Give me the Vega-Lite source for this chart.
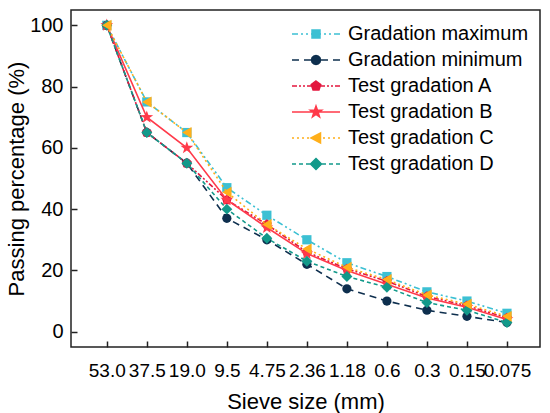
{
  "$schema": "https://vega.github.io/schema/vega-lite/v6.json",
  "width": 469,
  "height": 337,
  "autosize": "none",
  "padding": {"left": 71, "top": 10, "right": 10, "bottom": 66},
  "background": "white",
  "config": {
    "font": "Liberation Sans",
    "view": {"stroke": "#222222", "strokeWidth": 1.5},
    "axis": {"labelFont": "Liberation Sans", "titleFont": "Liberation Sans", "labelColor": "black", "titleColor": "black", "titleFontWeight": "normal", "domain": false, "grid": false, "tickColor": "#222222", "tickWidth": 1.5}
  },
  "data": {"values": [
      {"s":"53.0","i":0,"series":"Gradation maximum","v":100},
      {"s":"37.5","i":1,"series":"Gradation maximum","v":75},
      {"s":"19.0","i":2,"series":"Gradation maximum","v":65},
      {"s":"9.5","i":3,"series":"Gradation maximum","v":47},
      {"s":"4.75","i":4,"series":"Gradation maximum","v":38},
      {"s":"2.36","i":5,"series":"Gradation maximum","v":30},
      {"s":"1.18","i":6,"series":"Gradation maximum","v":22.5},
      {"s":"0.6","i":7,"series":"Gradation maximum","v":18},
      {"s":"0.3","i":8,"series":"Gradation maximum","v":13},
      {"s":"0.15","i":9,"series":"Gradation maximum","v":10},
      {"s":"0.075","i":10,"series":"Gradation maximum","v":6},
      {"s":"53.0","i":0,"series":"Gradation minimum","v":100},
      {"s":"37.5","i":1,"series":"Gradation minimum","v":65},
      {"s":"19.0","i":2,"series":"Gradation minimum","v":55},
      {"s":"9.5","i":3,"series":"Gradation minimum","v":37},
      {"s":"4.75","i":4,"series":"Gradation minimum","v":30},
      {"s":"2.36","i":5,"series":"Gradation minimum","v":22},
      {"s":"1.18","i":6,"series":"Gradation minimum","v":14},
      {"s":"0.6","i":7,"series":"Gradation minimum","v":10},
      {"s":"0.3","i":8,"series":"Gradation minimum","v":7},
      {"s":"0.15","i":9,"series":"Gradation minimum","v":5},
      {"s":"0.075","i":10,"series":"Gradation minimum","v":3},
      {"s":"53.0","i":0,"series":"Test gradation A","v":100},
      {"s":"37.5","i":1,"series":"Test gradation A","v":65},
      {"s":"19.0","i":2,"series":"Test gradation A","v":55},
      {"s":"9.5","i":3,"series":"Test gradation A","v":43},
      {"s":"4.75","i":4,"series":"Test gradation A","v":35},
      {"s":"2.36","i":5,"series":"Test gradation A","v":26},
      {"s":"1.18","i":6,"series":"Test gradation A","v":20.5},
      {"s":"0.6","i":7,"series":"Test gradation A","v":16.5},
      {"s":"0.3","i":8,"series":"Test gradation A","v":11.5},
      {"s":"0.15","i":9,"series":"Test gradation A","v":8.5},
      {"s":"0.075","i":10,"series":"Test gradation A","v":4.5},
      {"s":"53.0","i":0,"series":"Test gradation B","v":100},
      {"s":"37.5","i":1,"series":"Test gradation B","v":70},
      {"s":"19.0","i":2,"series":"Test gradation B","v":60},
      {"s":"9.5","i":3,"series":"Test gradation B","v":43},
      {"s":"4.75","i":4,"series":"Test gradation B","v":34},
      {"s":"2.36","i":5,"series":"Test gradation B","v":25.5},
      {"s":"1.18","i":6,"series":"Test gradation B","v":20},
      {"s":"0.6","i":7,"series":"Test gradation B","v":15.5},
      {"s":"0.3","i":8,"series":"Test gradation B","v":11},
      {"s":"0.15","i":9,"series":"Test gradation B","v":8},
      {"s":"0.075","i":10,"series":"Test gradation B","v":4},
      {"s":"53.0","i":0,"series":"Test gradation D","v":100},
      {"s":"37.5","i":1,"series":"Test gradation D","v":65},
      {"s":"19.0","i":2,"series":"Test gradation D","v":55},
      {"s":"9.5","i":3,"series":"Test gradation D","v":40},
      {"s":"4.75","i":4,"series":"Test gradation D","v":30.5},
      {"s":"2.36","i":5,"series":"Test gradation D","v":23},
      {"s":"1.18","i":6,"series":"Test gradation D","v":18},
      {"s":"0.6","i":7,"series":"Test gradation D","v":14.5},
      {"s":"0.3","i":8,"series":"Test gradation D","v":9.5},
      {"s":"0.15","i":9,"series":"Test gradation D","v":7},
      {"s":"0.075","i":10,"series":"Test gradation D","v":3},
      {"s":"53.0","i":0,"series":"Test gradation C","v":100},
      {"s":"37.5","i":1,"series":"Test gradation C","v":75},
      {"s":"19.0","i":2,"series":"Test gradation C","v":65},
      {"s":"9.5","i":3,"series":"Test gradation C","v":45.5},
      {"s":"4.75","i":4,"series":"Test gradation C","v":35},
      {"s":"2.36","i":5,"series":"Test gradation C","v":27},
      {"s":"1.18","i":6,"series":"Test gradation C","v":21},
      {"s":"0.6","i":7,"series":"Test gradation C","v":17},
      {"s":"0.3","i":8,"series":"Test gradation C","v":12},
      {"s":"0.15","i":9,"series":"Test gradation C","v":9},
      {"s":"0.075","i":10,"series":"Test gradation C","v":5}
  ]},
  "encoding": {
    "x": {
      "field": "s", "type": "ordinal",
      "scale": {"type": "point", "domain": ["53.0","37.5","19.0","9.5","4.75","2.36","1.18","0.6","0.3","0.15","0.075"], "padding": 0.86, "align": 0.52},
      "axis": {"title": "Sieve size (mm)", "labelAngle": 0, "labelFontSize": 19, "titleFontSize": 22, "tickSize": -6, "labelPadding": 20, "titlePadding": 11, "labelOverlap": false, "labelFlush": false, "labelBound": false}
    },
    "y": {
      "field": "v", "type": "quantitative",
      "scale": {"domain": [-5, 105], "nice": false, "zero": false},
      "axis": {"title": "Passing percentage (%)", "values": [0,20,40,60,80,100], "labelFontSize": 20, "titleFontSize": 22, "tickSize": -6, "labelPadding": 14, "titlePadding": 1}
    }
  },
  "layer": [
    {"transform": [{"filter": "datum.series === 'Gradation maximum'"}], "layer": [
      {"mark": {"type": "line", "strokeWidth": 1.6, "color": "#3CC0D3", "strokeDash": [6,3,2,3,2,3]}, "encoding": {"order": {"field": "i", "type": "quantitative"}}},
      {"mark": {"type": "point", "filled": true, "opacity": 1, "shape": "square", "size": 85, "color": "#3CC0D3"}}
    ]},
    {"transform": [{"filter": "datum.series === 'Gradation minimum'"}], "layer": [
      {"mark": {"type": "line", "strokeWidth": 1.6, "color": "#0E2F4E", "strokeDash": [7,5]}, "encoding": {"order": {"field": "i", "type": "quantitative"}}},
      {"mark": {"type": "point", "filled": true, "opacity": 1, "shape": "circle", "size": 85, "color": "#0E2F4E"}}
    ]},
    {"transform": [{"filter": "datum.series === 'Test gradation A'"}], "layer": [
      {"mark": {"type": "line", "strokeWidth": 1.6, "color": "#E3173E", "strokeDash": [5,2,2,2,2,2]}, "encoding": {"order": {"field": "i", "type": "quantitative"}}},
      {"mark": {"type": "point", "filled": true, "opacity": 1, "shape": "M0,-1L0.951,-0.309L0.588,0.809L-0.588,0.809L-0.951,-0.309Z", "size": 110, "color": "#E3173E"}}
    ]},
    {"transform": [{"filter": "datum.series === 'Test gradation B'"}], "layer": [
      {"mark": {"type": "line", "strokeWidth": 1.6, "color": "#FF3A4A"}, "encoding": {"order": {"field": "i", "type": "quantitative"}}},
      {"mark": {"type": "point", "filled": true, "opacity": 1, "shape": "M0,-1L0.235,-0.324L0.951,-0.309L0.380,0.124L0.588,0.809L0,0.4L-0.588,0.809L-0.380,0.124L-0.951,-0.309L-0.235,-0.324Z", "size": 180, "color": "#FF3A4A"}}
    ]},
    {"transform": [{"filter": "datum.series === 'Test gradation D'"}], "layer": [
      {"mark": {"type": "line", "strokeWidth": 1.6, "color": "#12998A", "strokeDash": [4,3]}, "encoding": {"order": {"field": "i", "type": "quantitative"}}},
      {"mark": {"type": "point", "filled": true, "opacity": 1, "shape": "diamond", "size": 120, "color": "#12998A"}}
    ]},
    {"transform": [{"filter": "datum.series === 'Test gradation C'"}], "layer": [
      {"mark": {"type": "line", "strokeWidth": 1.6, "color": "#FFAF1A", "strokeDash": [2,3]}, "encoding": {"order": {"field": "i", "type": "quantitative"}}},
      {"mark": {"type": "point", "filled": true, "opacity": 1, "shape": "triangle-left", "size": 120, "color": "#FFAF1A"}}
    ]},
    {
      "mark": {"type": "point", "filled": true, "opacity": 0.001},
      "encoding": {
        "shape": {
          "field": "series", "type": "nominal",
          "scale": {"domain": ["Gradation maximum","Gradation minimum","Test gradation A","Test gradation B","Test gradation C","Test gradation D"],
                    "range": [
                      "M-2.4,0L-1.8,0M-1.5,0L-1.3,0M-1,0L-0.8,0M-0.5,0L0.5,0M0.8,0L1,0M1.3,0L1.5,0M1.8,0L2.4,0M-0.4,-0.4L0.4,-0.4L0.4,0.4L-0.4,0.4Z",
                      "M-2.4,0L-1.7,0M-1.2,0L-0.5,0M0.5,0L1.2,0M1.7,0L2.4,0M0.45,0L0.39,0.225L0.225,0.39L0,0.45L-0.225,0.39L-0.39,0.225L-0.45,0L-0.39,-0.225L-0.225,-0.39L0,-0.45L0.225,-0.39L0.39,-0.225Z",
                      "M-2.4,0L-1.9,0M-1.7,0L-1.5,0M-1.3,0L-1.1,0M-0.9,0L0.9,0M1.1,0L1.3,0M1.5,0L1.7,0M1.9,0L2.4,0M0,-0.5L0.476,-0.155L0.294,0.405L-0.294,0.405L-0.476,-0.155Z",
                      "M-2.4,0L2.4,0M0,-0.6L0.141,-0.194L0.571,-0.185L0.228,0.074L0.353,0.485L0,0.24L-0.353,0.485L-0.228,0.074L-0.571,-0.185L-0.141,-0.194Z",
                      "M-2.4,0L-2.2,0M-1.9,0L-1.7,0M-1.4,0L-1.2,0M-0.9,0L-0.7,0M0.7,0L0.9,0M1.2,0L1.4,0M1.7,0L1.9,0M2.2,0L2.4,0M-0.5,0L0.45,-0.5L0.45,0.5Z",
                      "M-2.4,0L-2,0M-1.7,0L-1.3,0M-1,0L-0.6,0M0.6,0L1,0M1.3,0L1.7,0M2,0L2.4,0M0,-0.55L0.55,0L0,0.55L-0.55,0Z"
                    ]},
          "legend": {
            "title": null, "orient": "none", "legendX": 234, "legendY": 13, "padding": 0,
            "symbolSize": 400, "symbolStrokeWidth": 1.5, "symbolOpacity": 1,
            "labelFont": "Liberation Sans", "labelFontSize": 20, "labelColor": "black", "labelOffset": 21, "rowPadding": 5, "labelLimit": 300
          }
        },
        "fill": {
          "field": "series", "type": "nominal",
          "scale": {"domain": ["Gradation maximum","Gradation minimum","Test gradation A","Test gradation B","Test gradation C","Test gradation D"],
                    "range": ["#3CC0D3","#0E2F4E","#E3173E","#FF3A4A","#FFAF1A","#12998A"]},
          "legend": {
            "title": null, "orient": "none", "legendX": 234, "legendY": 13, "padding": 0,
            "symbolSize": 400, "symbolStrokeWidth": 1.5, "symbolOpacity": 1,
            "labelFont": "Liberation Sans", "labelFontSize": 20, "labelColor": "black", "labelOffset": 21, "rowPadding": 5, "labelLimit": 300
          }
        },
        "stroke": {
          "field": "series", "type": "nominal",
          "scale": {"domain": ["Gradation maximum","Gradation minimum","Test gradation A","Test gradation B","Test gradation C","Test gradation D"],
                    "range": ["#3CC0D3","#0E2F4E","#E3173E","#FF3A4A","#FFAF1A","#12998A"]},
          "legend": {
            "title": null, "orient": "none", "legendX": 234, "legendY": 13, "padding": 0,
            "symbolSize": 400, "symbolStrokeWidth": 1.5, "symbolOpacity": 1,
            "labelFont": "Liberation Sans", "labelFontSize": 20, "labelColor": "black", "labelOffset": 21, "rowPadding": 5, "labelLimit": 300
          }
        }
      }
    }
  ]
}
